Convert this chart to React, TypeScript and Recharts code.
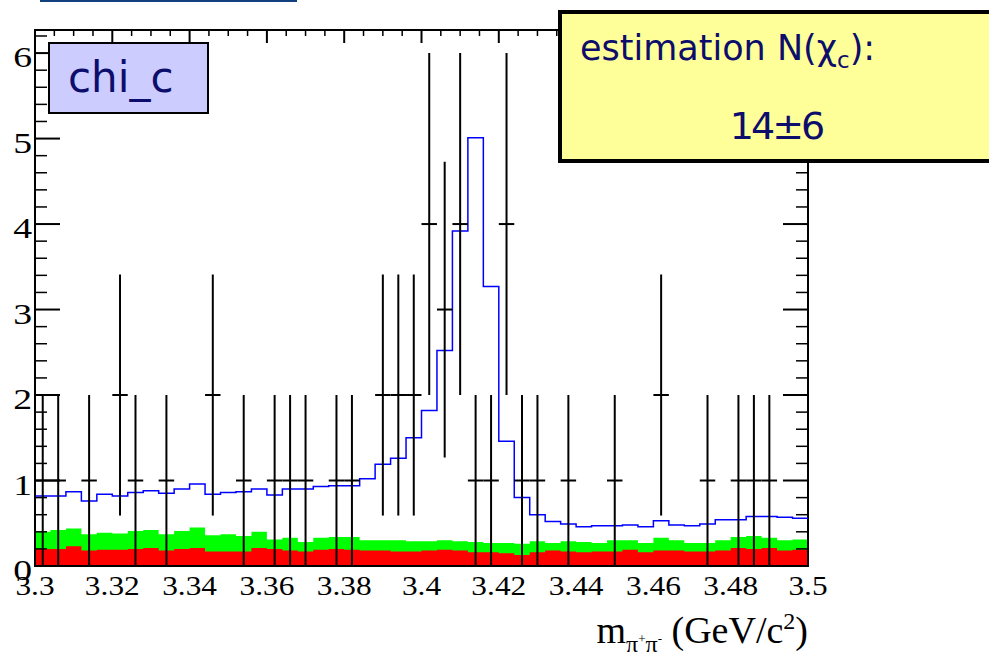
import React from 'react'
import { ComposedChart, Area, Line, Scatter, ErrorBar, XAxis, YAxis, ReferenceArea } from 'recharts'

// binning of the histograms
const X_MIN = 3.3
const X_MAX = 3.5
const BIN_W = 0.004
const Y_MAX = 6.27

const X_TICK_LABELS = ['3.3', '3.32', '3.34', '3.36', '3.38', '3.4', '3.42', '3.44', '3.46', '3.48', '3.5']
const Y_TICK_LABELS = ['0', '1', '2', '3', '4', '5', '6']

// data counts per bin (0 = empty bin, not drawn)
const dataCounts = [
  1, 1, 0, 1, 0, 2, 1, 0, 1, 0,
  0, 2, 0, 1, 0, 1, 1, 1, 0, 1,
  1, 0, 2, 2, 2, 4, 3, 4, 1, 1,
  4, 1, 1, 0, 1, 0, 0, 1, 0, 0,
  2, 0, 0, 1, 0, 1, 1, 1, 0, 0,
]
// vertical error bar half-length per bin
const dataErrors = [
  1, 1, 0, 1, 0, 1.41, 1, 0, 1, 0,
  0, 1.41, 0, 1, 0, 1, 1, 1, 0, 1,
  1, 0, 1.41, 1.41, 1.41, 2, 1.73, 2, 1, 1,
  2, 1, 1, 0, 1, 0, 0, 1, 0, 0,
  1.41, 0, 0, 1, 0, 1, 1, 1, 0, 0,
]

// blue MC expectation
const mcValues = [
  0.82, 0.82, 0.87, 0.76, 0.84, 0.82, 0.86, 0.88, 0.85, 0.9,
  0.96, 0.84, 0.86, 0.87, 0.9, 0.83, 0.9, 0.9, 0.93, 0.94,
  0.94, 1.02, 1.19, 1.26, 1.5, 1.82, 2.52, 3.92, 5.01, 3.27,
  1.46, 0.8, 0.6, 0.52, 0.49, 0.46, 0.47, 0.47, 0.48, 0.46,
  0.53, 0.48, 0.47, 0.49, 0.54, 0.54, 0.58, 0.58, 0.57, 0.56,
]

// green background (total, drawn behind red)
const greenValues = [
  0.4, 0.42, 0.44, 0.37, 0.39, 0.38, 0.41, 0.42, 0.37, 0.41,
  0.45, 0.36, 0.37, 0.35, 0.4, 0.31, 0.33, 0.28, 0.33, 0.34,
  0.34, 0.3, 0.3, 0.3, 0.29, 0.29, 0.3, 0.29, 0.28, 0.27,
  0.27, 0.26, 0.29, 0.27, 0.29, 0.28, 0.27, 0.3, 0.3, 0.27,
  0.33, 0.3, 0.27, 0.27, 0.3, 0.34, 0.35, 0.33, 0.3, 0.31,
]

// red background
const redValues = [
  0.2, 0.2, 0.23, 0.18, 0.19, 0.19, 0.2, 0.21, 0.18, 0.2,
  0.21, 0.17, 0.17, 0.17, 0.21, 0.2, 0.18, 0.17, 0.19, 0.2,
  0.19, 0.18, 0.18, 0.17, 0.17, 0.18, 0.19, 0.18, 0.16, 0.16,
  0.15, 0.13, 0.16, 0.18, 0.17, 0.16, 0.17, 0.17, 0.19, 0.16,
  0.18, 0.18, 0.17, 0.17, 0.18, 0.21, 0.2, 0.21, 0.18, 0.19,
]

const xTicks = X_TICK_LABELS.map(Number)
const yTicks = Y_TICK_LABELS.map(Number)

// minor tick grids (major ticks are a subset)
const xAllTicks: number[] = []
for (let i = 0; i <= 40; i++) xAllTicks.push(+(X_MIN + i * 0.005).toFixed(3))
const yAllTicks: number[] = []
for (let i = 0; i <= 31; i++) yAllTicks.push(+(i * 0.2).toFixed(1))

const edges = Array.from({ length: mcValues.length + 1 }, (_, i) => +(X_MIN + i * BIN_W).toFixed(3))
const stepRows = (vals: number[]) =>
  edges.map((x, i) => ({ x, y: vals[Math.min(i, vals.length - 1)] }))

const mcRows = stepRows(mcValues)
const greenRows = stepRows(greenValues)
const redRows = stepRows(redValues)

const pointRows = dataCounts
  .map((c, i) => ({ x: +(X_MIN + (i + 0.5) * BIN_W).toFixed(3), y: c, ey: dataErrors[i], ex: BIN_W / 2 }))
  .filter((r) => r.y > 0)

// plot frame in svg pixels (chart margins)
const W = 989
const H = 660
const M_TOP = 30
const M_RIGHT = 181
const PLOT_LEFT = 35
const PLOT_RIGHT = W - M_RIGHT

const SERIF = '"Liberation Serif", "Times New Roman", serif'
const LABEL_FONT = '"DejaVu Sans", "Open Sans", sans-serif'
const NAVY = '#0d0d6b'

// bottom labels + inward ticks on the top edge
const XTick = (props: any) => {
  const { x, y, payload } = props
  const idx = xTicks.indexOf(payload.value)
  const major = idx >= 0
  return (
    <g>
      <line x1={x} x2={x} y1={M_TOP} y2={M_TOP + (major ? 13 : 6)} stroke="#000" strokeWidth={major ? 2 : 1.5} />
      {major && (
        <g transform={`translate(${x},${y})`}>
          <text x={0} y={0} dy="0.71em" textAnchor="middle" fontFamily={SERIF} fontSize={28} fill="#000" transform="scale(1.12,1)">
            {X_TICK_LABELS[idx]}
          </text>
        </g>
      )}
    </g>
  )
}

// left labels + inward ticks on left and right edges
const YTick = (props: any) => {
  const { x, y, payload } = props
  const idx = yTicks.indexOf(payload.value)
  const major = idx >= 0
  const len = major ? 25 : 12
  return (
    <g>
      <line x1={PLOT_LEFT} x2={PLOT_LEFT + len} y1={y} y2={y} stroke="#000" strokeWidth={major ? 2 : 1.5} />
      <line x1={PLOT_RIGHT} x2={PLOT_RIGHT - len} y1={y} y2={y} stroke="#000" strokeWidth={major ? 2 : 1.5} />
      {major && (
        <g transform={`translate(${x},${y})`}>
          <text x={0} y={0} dy={14} textAnchor="end" fontFamily={SERIF} fontSize={29} fill="#000" transform="scale(1.3,1)">
            {Y_TICK_LABELS[idx]}
          </text>
        </g>
      )}
    </g>
  )
}

const NoShape = () => <g />

const frame = { stroke: '#000', strokeWidth: 2 }

export default function App() {
  return (
    <div style={{ position: 'absolute', left: 0, top: 0, width: W, height: H, overflow: 'hidden', background: '#fff' }}>
      <ComposedChart width={W} height={H} margin={{ top: M_TOP, right: M_RIGHT, bottom: 0, left: 0 }}>
        <XAxis xAxisId="b" type="number" dataKey="x" domain={[X_MIN, X_MAX]} allowDataOverflow ticks={xAllTicks} interval={0}
          height={94} tickLine={false} tickSize={0} tickMargin={9} axisLine={frame} tick={<XTick />} />
        <YAxis yAxisId="l" type="number" domain={[0, Y_MAX]} allowDataOverflow ticks={yAllTicks} interval={0}
          width={PLOT_LEFT} tickLine={false} tickSize={0} tickMargin={3} axisLine={frame} tick={<YTick />} />

        <Area xAxisId="b" yAxisId="l" data={greenRows} dataKey="y" type="stepAfter" fill="#00ff00" fillOpacity={1} stroke="none" isAnimationActive={false} />
        <Area xAxisId="b" yAxisId="l" data={redRows} dataKey="y" type="stepAfter" fill="#ff0000" fillOpacity={1} stroke="none" isAnimationActive={false} />
        <Line xAxisId="b" yAxisId="l" data={mcRows} dataKey="y" type="stepAfter" stroke="#0000ff" strokeWidth={1.5} dot={false} isAnimationActive={false} />
        <Scatter xAxisId="b" yAxisId="l" data={pointRows} dataKey="y" shape={NoShape} isAnimationActive={false}>
          <ErrorBar dataKey="ey" direction="y" width={0} stroke="#000" strokeWidth={2} />
          <ErrorBar dataKey="ex" direction="x" width={0} stroke="#000" strokeWidth={2} />
        </Scatter>

        <ReferenceArea xAxisId="b" yAxisId="l" x1={X_MIN} x2={X_MAX} y1={0} y2={Y_MAX} fill="none" fillOpacity={0} stroke="#000" strokeWidth={2} ifOverflow="visible" />
      </ComposedChart>

      {/* leftover title underline at the top */}
      <div style={{ position: 'absolute', left: 40, top: 0, width: 257, height: 2, background: '#12407f' }} />

      {/* histogram name box */}
      <div style={{ position: 'absolute', left: 48, top: 42, width: 161, height: 72, boxSizing: 'border-box', background: '#ccccff', border: '2px solid #000' }}>
        <div style={{ position: 'absolute', left: 18, top: 10, fontFamily: LABEL_FONT, fontSize: 42, lineHeight: '48px', color: NAVY, whiteSpace: 'nowrap' }}>chi_c</div>
      </div>

      {/* estimation box */}
      <div style={{ position: 'absolute', left: 558, top: 10, width: 450, height: 153, boxSizing: 'border-box', background: '#ffff99', border: '4px solid #000' }}>
        <div style={{ position: 'absolute', left: 18, top: 14, fontFamily: LABEL_FONT, fontSize: 35, lineHeight: '40px', color: NAVY, whiteSpace: 'nowrap' }}>
          estimation N(χ<span style={{ fontSize: 23, position: 'relative', top: 8 }}>c</span>):
        </div>
        <div style={{ position: 'absolute', left: 159, width: 110, top: 92, textAlign: 'center', fontFamily: LABEL_FONT, fontSize: 38, lineHeight: '40px', letterSpacing: -3, color: NAVY, whiteSpace: 'nowrap' }}>
          14±6
        </div>
      </div>

      {/* x axis title */}
      <div style={{ position: 'absolute', right: M_RIGHT, top: 611, fontFamily: SERIF, fontSize: 38, lineHeight: 1, whiteSpace: 'nowrap', color: '#000' }}>
        m
        <span style={{ fontSize: 24, position: 'relative', top: 9 }}>
          π<span style={{ fontSize: 13, position: 'relative', top: -9 }}>+</span>π<span style={{ fontSize: 13, position: 'relative', top: -9 }}>-</span>
        </span>
        {' '}(GeV/c<span style={{ fontSize: 24, position: 'relative', top: -14 }}>2</span>)
      </div>
    </div>
  )
}
